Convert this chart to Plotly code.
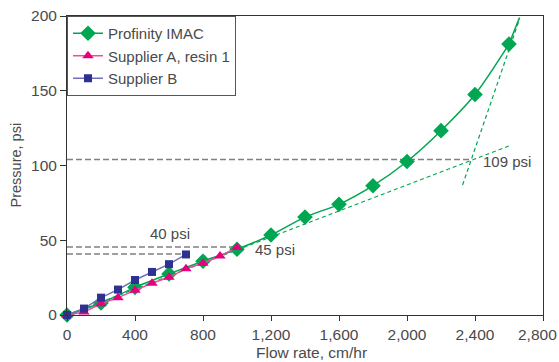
import plotly.graph_objects as go

# ---- data ----
flow_imac = [0, 200, 400, 600, 800, 1000, 1200, 1400, 1600, 1800, 2000, 2200, 2400, 2600]
p_imac = [0, 8, 18.5, 27.5, 36, 44, 53.5, 65.5, 74, 86.5, 102.7, 123.3, 147.5, 181.2]
imac_ext_x = [2600, 2662]
imac_ext_y = [181.2, 199]

flow_a = [0, 100, 200, 300, 400, 500, 600, 700, 800, 900, 1000]
p_a = [0, 2, 7.5, 11.6, 16.5, 21.2, 25.2, 31, 34.6, 39.4, 45.2]

flow_b = [0, 100, 200, 300, 400, 500, 600, 700]
p_b = [0, 4.3, 11.6, 17, 23.4, 28.8, 34, 40.5]

# tangent (dashed green) guide lines
tan1_x = [0, 2610]
tan1_y = [0, 113.5]
tan2_x = [2327, 2662]
tan2_y = [87, 198]

# horizontal gray reference lines
ref109_x = [0, 2380]
ref109_y = [104, 104]
ref45_x = [0, 1000]
ref45_y = [45.5, 45.5]
ref40_x = [0, 700]
ref40_y = [40.8, 40.8]

x_ticks = [0, 400, 800, 1200, 1600, 2000, 2400, 2800]
x_tick_labels = ["0", "400", "800", "1,200", "1,600", "2,000", "2,400", ""]
x_last_label = "2,800"
y_ticks = [0, 50, 100, 150, 200]

GREEN = "#00A651"
PINK_LINE = "#EE4C9E"
PINK = "#E6007E"
BLUE_LINE = "#6E71B5"
BLUE = "#2E3192"
GRAY = "#808080"
TXT = "#4a4a4a"
FONT = "Liberation Sans, Arial, sans-serif"

fig = go.Figure()

for xs, ys in [(ref109_x, ref109_y), (ref45_x, ref45_y), (ref40_x, ref40_y)]:
    fig.add_trace(go.Scatter(x=xs, y=ys, mode="lines", showlegend=False, hoverinfo="skip",
                             line=dict(color=GRAY, width=1.3, dash="6px,3px")))

for xs, ys in [(tan1_x, tan1_y), (tan2_x, tan2_y)]:
    fig.add_trace(go.Scatter(x=xs, y=ys, mode="lines", showlegend=False, hoverinfo="skip",
                             line=dict(color=GREEN, width=1.2, dash="4px,3px")))

fig.add_trace(go.Scatter(x=imac_ext_x, y=imac_ext_y, mode="lines", showlegend=False,
                         hoverinfo="skip", line=dict(color=GREEN, width=1.5)))

fig.add_trace(go.Scatter(x=flow_imac, y=p_imac, mode="lines+markers", name="Profinity IMAC",
                         line=dict(color=GREEN, width=1.5, shape="spline", smoothing=0.8),
                         marker=dict(symbol="diamond", size=12, color=GREEN),
                         cliponaxis=False))
fig.add_trace(go.Scatter(x=flow_a, y=p_a, mode="lines+markers", name="Supplier A, resin 1",
                         line=dict(color=PINK_LINE, width=1.5),
                         marker=dict(symbol="triangle-up", size=10, color=PINK),
                         cliponaxis=False))
fig.add_trace(go.Scatter(x=flow_b, y=p_b, mode="lines+markers", name="Supplier B",
                         line=dict(color=BLUE_LINE, width=1.5),
                         marker=dict(symbol="square", size=8, color=BLUE),
                         cliponaxis=False))

ann_font = dict(family=FONT, size=15, color=TXT)
fig.add_annotation(x=606, y=54.8, text="40 psi", showarrow=False, font=ann_font)
fig.add_annotation(x=1223, y=44, text="45 psi", showarrow=False, font=ann_font)
fig.add_annotation(x=2588, y=102.5, text="109 psi", showarrow=False, font=ann_font)

# last x tick label, nudged left so it stays inside the picture
fig.add_annotation(x=x_ticks[-1], xref="x", y=0, yref="paper", text=x_last_label,
                   showarrow=False, xanchor="right", yanchor="middle", xshift=15, yshift=-19,
                   borderpad=0, font=dict(family=FONT, size=15.5, color=TXT))

# axis titles
fig.add_annotation(xref="paper", yref="paper", x=0.5 + 6 / 476, y=-37 / 299, yanchor="middle",
                   text="Flow rate, cm/hr", showarrow=False,
                   font=dict(family=FONT, size=15.5, color=TXT))
fig.add_annotation(xref="paper", yref="paper", x=-52 / 476, y=0.5, xanchor="center",
                   text="Pressure, psi", showarrow=False, textangle=-90,
                   font=dict(family=FONT, size=14.5, color=TXT))

fig.update_xaxes(range=[0, 2800], tickvals=x_ticks, ticktext=x_tick_labels, showgrid=False,
                 zeroline=False, showline=True, mirror=True, linecolor="#333", linewidth=1,
                 ticks="outside", ticklen=5, tickcolor="#333",
                 automargin=False,
                 tickfont=dict(family=FONT, size=15.5, color=TXT))
fig.update_yaxes(range=[0, 200], tickvals=y_ticks, showgrid=False, zeroline=False,
                 showline=True, mirror=True, linecolor="#333", linewidth=1,
                 ticks="outside", ticklen=6, tickcolor="#333", ticklabeloverflow="allow",
                 automargin=False,
                 tickfont=dict(family=FONT, size=15.5, color=TXT))

fig.update_layout(
    width=559, height=362,
    margin=dict(l=67, r=16, t=16, b=47, autoexpand=False),
    paper_bgcolor="white", plot_bgcolor="white",
    font=dict(family=FONT, color=TXT),
    legend=dict(x=0, y=1, xanchor="left", yanchor="top", bgcolor="white",
                bordercolor="#555", borderwidth=1,
                font=dict(family=FONT, size=15, color=TXT), itemwidth=30,
                tracegroupgap=0),
    showlegend=True,
)

fig.write_html("out.html", config={"displayModeBar": False},
               post_script="document.body.style.margin='0';document.body.style.padding='0';")
